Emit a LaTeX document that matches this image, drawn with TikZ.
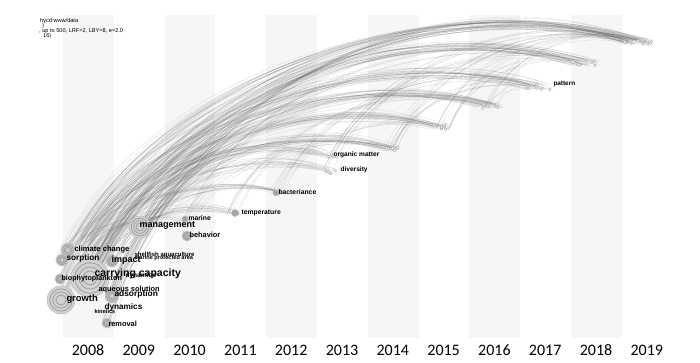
\documentclass[tikz,border=0pt]{standalone}
\usepackage{fontspec}
\setmainfont{Liberation Sans}
\newfontfamily\yearfont{Carlito}
\usetikzlibrary{calc}
\pgfdeclarelayer{back}
\pgfdeclarelayer{bg}
\pgfsetlayers{back,bg,main}
\tikzset{
  lbl/.style={anchor=west, inner sep=0.3pt, font=\bfseries\fontsize{#1}{#1}\selectfont},
  ring/.style={circle, inner sep=0pt, minimum size=#1*1pt, fill=gray!35, draw=gray!55, line width=0.5pt,
     path picture={\foreach \f in {0.8,0.58,0.36}{\draw[gray!72, line width=0.9pt] (path picture bounding box.center) circle[radius={\f*#1*0.5pt}];}}},
  dotc/.style={draw=gray!70, fill=white, line width=0.35pt},
  arc/.style={draw=black!70, line width=0.35pt, opacity=0.17},
  stripe/.style={fill=black!3.5, draw=none},
  yr/.style={font=\yearfont\fontsize{16}{16}\selectfont, inner sep=0pt},
  hdr/.style={anchor=west, inner sep=0pt, font=\fontsize{5.6}{6}\selectfont}
}
\begin{document}
\begin{tikzpicture}[x=1pt,y=-1pt]
\useasboundingbox (0,0) rectangle (700,363);
\begin{pgfonlayer}{back}
\fill[white] (0,0) rectangle (700,363);
\foreach \k in {0,...,5} \fill[stripe] (63+101.6*\k,15) rectangle (113.8+101.6*\k,338);
\end{pgfonlayer}

% header
\node[hdr] (hdr1) at (40,21) {hycd:www/data};
\node[hdr] (hdr2) at (42,26) {)};
\node[hdr] (hdr3) at (39,31) {, up to 500, LRF=2, LBY=8, e=2.0};
\node[hdr] (hdr4) at (43,36) {16)};

% years
\foreach \y [count=\i from 0] in {2008,...,2019}
  \node[yr] (yr\y) at (88+50.8*\i,350) {\y};

% rings (2008 cluster and 2009-2010)
\node[ring=38] (capR) at (90,278) {};
\node[ring=28] (growthR) at (61,300) {};
\node[ring=14] (climR) at (68,250) {};
\node[ring=12] (sorpR) at (62,260) {};
\node[ring=12] (impR) at (112,261) {};
\node[ring=14] (adsR) at (112,296) {};
\node[ring=10] (biophR) at (60,279) {};
\node[ring=10] (remR) at (107,323) {};
\node[ring=22] (mgmtR) at (140,227) {};
\node[ring=10] (behR) at (187,236) {};
\node[ring=6] (marR) at (185,219) {};
\node[ring=7] (temR) at (235,213) {};
\node[ring=6] (bacR) at (276,193) {};

\coordinate (sA) at (85,242);
\coordinate (sB) at (95,255);
\coordinate (sC) at (100,268);

% bundle targets
\coordinate (t09) at (147,226);
\coordinate (t10) at (186,222);
\coordinate (t11) at (232,212);
\coordinate (t12) at (278,192);
\coordinate (t13a) at (331,171);
\coordinate (t13b) at (333,156);
\coordinate (t14) at (391,149);
\coordinate (t15) at (442,127);
\coordinate (t16) at (489,106);
\coordinate (t17) at (538,87);
\coordinate (t18) at (585,63);
\coordinate (t19) at (638,42);

\pgfmathsetseed{11}
\pgfmathdeclarerandomlist{src}{{growthR}{capR}{climR}{sorpR}{impR}{adsR}{biophR}{remR}{mgmtR}{sA}{sB}{sC}{sA}{sB}{capR}}
\begin{pgfonlayer}{bg}
\foreach \t/\n/\w in {t19/45/15,t18/30/17,t17/25/15,t16/25/15,t15/25/10,t14/25/9,t13a/14/6,t13b/14/6,t12/16/5,t11/14/6,t10/9/4,t09/8/4}{
  \foreach \k in {1,...,\n}{
    \pgfmathrandomitem{\s}{src}
    \pgfmathsetmacro\ja{rand*6}
    \pgfmathsetmacro\jb{rand*6}
    \pgfmathsetmacro\jc{rand*\w}
    \pgfmathsetmacro\jd{rand*3}
    \draw[arc] let \p1=($(\s)+(\ja,\jb)$), \p2=($(\t)+(\jc,\jd)$) in
      (\p1) .. controls ({\x1+0.16*(\x2-\x1)},{\y1+0.9*(\y2-\y1)}) and ({\x2-0.35*(\x2-\x1)},{\y2+0.25*(\y2-\y1)}) .. (\p2);
  }
}
\foreach \s/\t/\n in {t13a/t19/6,t13b/t18/5,t14/t19/6,t12/t17/5,t11/t16/4,t15/t19/5,t16/t19/5,t14/t17/5,t12/t15/4,t10/t14/4,t09/t16/5,t09/t19/6,t10/t18/5,t11/t13b/3,t15/t18/4,t16/t17/3}{
  \foreach \k in {1,...,\n}{
    \pgfmathsetmacro\ja{rand*8}
    \pgfmathsetmacro\jb{rand*3}
    \pgfmathsetmacro\jc{rand*12}
    \pgfmathsetmacro\jd{rand*3}
    \draw[arc] let \p1=($(\s)+(\ja,\jb)$), \p2=($(\t)+(\jc,\jd)$) in
      (\p1) .. controls ({\x1+0.16*(\x2-\x1)},{\y1+0.9*(\y2-\y1)}) and ({\x2-0.35*(\x2-\x1)},{\y2+0.25*(\y2-\y1)}) .. (\p2);
  }
}
% small node dots at bundles
\foreach \t/\n/\w in {t19/12/14,t18/9/16,t17/8/14,t16/8/14,t15/7/10,t14/7/8,t13a/5/5,t13b/5/5,t12/4/4,t11/5/6,t10/3/4}{
  \foreach \k in {1,...,\n}{
    \pgfmathsetmacro\jc{rand*\w}
    \pgfmathsetmacro\jd{rand*2.5}
    \draw[dotc] ($(\t)+(\jc,\jd)$) circle[radius=1.4pt];
  }
}
\end{pgfonlayer}

% labels
\node[lbl=6.8] (lmarine) at (188,218) {marine};
\node[lbl=9] (lmgmt) at (139,225.5) {management};
\node[lbl=7.4] (lbeh) at (189,235) {behavior};
\node[lbl=7.6] (lclim) at (74,250) {climate change};
\node[lbl=8.2] (lsorp) at (66,258.5) {sorption};
\node[lbl=9] (limp) at (111,260.5) {impact};
\node[lbl=6] (lshell) at (134,255) {shellfish aquaculture};
\node[lbl=5.6] (lmpa) at (134,258) {marine protected area};
\node[lbl=10.5] (lcap) at (94,274) {carrying capacity};
\node[lbl=7.2] (lbioph) at (61,278.5) {biophytoplankton};
\node[lbl=6.6] (ldyn1) at (125,276) {dynamics};
\node[lbl=7.4] (laq) at (98,289.5) {aqueous solution};
\node[lbl=8.4] (lads) at (114,294) {adsorption};
\node[lbl=9.4] (lgrowth) at (66,299.5) {growth};
\node[lbl=8.2] (ldyn2) at (104,307.5) {dynamics};
\node[lbl=5.6] (lkin) at (94,311.5) {kinetics};
\node[lbl=7.4] (lrem) at (108,323.5) {removal};
\node[lbl=6.8] (ltemp) at (241,212.5) {temperature};
\node[lbl=6.8] (lbac) at (278,192.5) {bacteriance};
\node[lbl=6.6] (ldiv) at (340,169.5) {diversity};
\node[lbl=6.6] (lorg) at (333,155) {organic matter};
\node[lbl=6.4] (lpat) at (553,84) {pattern};
\end{tikzpicture}
\end{document}
